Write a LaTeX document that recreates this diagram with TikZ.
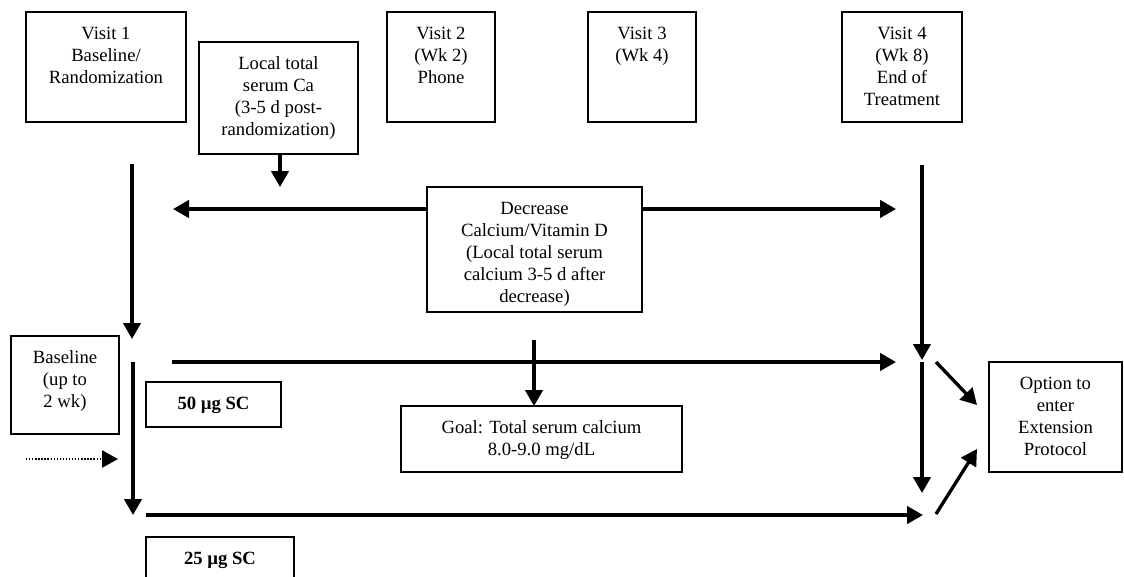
\documentclass[tikz,border=0pt]{standalone}
\usepackage{fontspec}
\setmainfont{Liberation Serif}
\usetikzlibrary{arrows.meta}
\newdimen\pxu \pxu=0.75pt
\newcommand\bxn[6]{\node[bx] (#1) at (#2,#3) {\parbox[c][#5\pxu][t]{#4\pxu}{\centering\vspace*{8.8pt}\strut #6}};}
\tikzset{
  bx/.style={draw, line width=1.1pt, inner sep=0pt, outer sep=0pt, anchor=north west},
  ar/.style={line width=2.5pt, -{Triangle[length=12pt,width=13pt]}},
  dt/.style={line width=1.1pt, dash pattern=on 1pt off 1.3pt, -{Triangle[length=12pt,width=13pt]}}
}
\begin{document}
\begin{tikzpicture}[x=0.75pt, y=-0.75pt, font=\fontsize{14}{16.5}\selectfont]
\useasboundingbox (0,0) rectangle (1124,576);
% boxes
\bxn{v1}{26}{12}{160}{110}{Visit 1\\Baseline/\\Randomization}
\bxn{loc}{199}{42}{159}{112}{Local total\\serum Ca\\(3-5 d post-\\randomization)}
\bxn{v2}{387}{12}{108}{110}{Visit 2\\(Wk 2)\\Phone}
\bxn{v3}{588}{12}{108}{110}{Visit 3\\(Wk 4)}
\bxn{v4}{842}{12}{120}{110}{Visit 4\\(Wk 8)\\End of\\Treatment}
\bxn{dec}{427}{187}{215}{125}{Decrease\\Calcium/Vitamin D\\(Local total serum\\calcium 3-5 d after\\decrease)}
\bxn{base}{11}{336}{108}{98}{Baseline\\(up to\\2 wk)}
\bxn{s50}{146}{382}{135}{45}{\textbf{50 µg SC}}
\bxn{goal}{401}{406}{281}{66}{Goal: Total serum calcium\\8.0-9.0 mg/dL}
\bxn{opt}{989}{362}{133}{110}{Option to\\enter\\Extension\\Protocol}
\bxn{s25}{146}{537}{148}{60}{\textbf{25 µg SC}}
% coordinates
\coordinate (locT) at (280,187);
\coordinate (l1a) at (132,164);
\coordinate (l1b) at (132,339);
\coordinate (decL) at (173,209);
\coordinate (decR) at (896,209);
\coordinate (r1a) at (922,165);
\coordinate (r1b) at (922,360);
\coordinate (l2a) at (133,362);
\coordinate (l2b) at (133,515);
\coordinate (dota) at (26,459);
\coordinate (dotb) at (118,459);
\coordinate (h1a) at (172,362);
\coordinate (h1b) at (896,362);
\coordinate (gS) at (534,340);
\coordinate (r2a) at (922,362);
\coordinate (r2b) at (922,493);
\coordinate (h2a) at (146,515);
\coordinate (h2b) at (923,515);
\coordinate (d1a) at (936,362);
\coordinate (d1b) at (977,405);
\coordinate (d2a) at (936,514);
\coordinate (d2b) at (977,449);
% connectors
\draw[ar] (loc.south -| locT) -- (locT);
\draw[ar] (l1a) -- (l1b);
\draw[ar] (dec.west |- decL) -- (decL);
\draw[ar] (dec.east |- decR) -- (decR);
\draw[ar] (r1a) -- (r1b);
\draw[ar] (l2a) -- (l2b);
\draw[dt] (dota) -- (dotb);
\draw[ar] (h1a) -- (h1b);
\draw[ar] (gS) -- (goal.north -| gS);
\draw[ar] (r2a) -- (r2b);
\draw[ar] (h2a) -- (h2b);
\draw[ar] (d1a) -- (d1b);
\draw[ar] (d2a) -- (d2b);
\end{tikzpicture}
\end{document}
